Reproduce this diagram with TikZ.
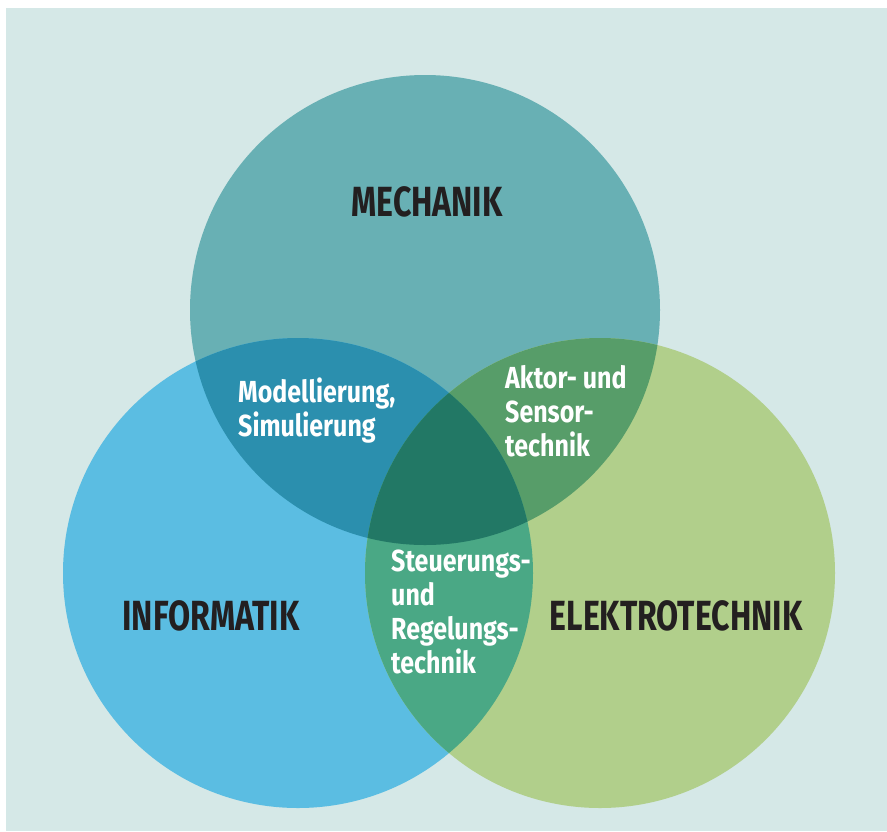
\documentclass[tikz,border=0pt]{standalone}
\usepackage{fontspec}
\setmainfont{Fira Sans}[FakeStretch=0.76]
\newfontfamily\overlapfont{Fira Sans}[FakeStretch=0.82]
\usepackage{tikz}

\definecolor{bgcol}{HTML}{D5E8E7}
\definecolor{mechcol}{HTML}{68B0B4}
\definecolor{infocol}{HTML}{5BBDE2}
\definecolor{etcol}{HTML}{B1CF8B}
\definecolor{mechinfo}{HTML}{2B8FAE}
\definecolor{mechet}{HTML}{579D69}
\definecolor{infoet}{HTML}{4AA885}
\definecolor{allthree}{HTML}{227865}
\definecolor{textdark}{HTML}{231F20}

\begin{document}
\begin{tikzpicture}[x=0.03cm, y=-0.03cm]
    % Styles
    \tikzstyle{field} = [font=\bfseries\fontsize{36}{40}\selectfont, text=textdark, anchor=base, inner sep=0pt]
    \tikzstyle{overlap} = [font=\overlapfont\bfseries\fontsize{26}{29}\selectfont, text=white, anchor=base west, align=left, inner sep=0pt]

    % Frame
    \useasboundingbox (0,0) rectangle (887,831);
    \fill[bgcol] (6,8) rectangle (887,831);

    % Circle centres
    \coordinate (M) at (425,310);
    \coordinate (I) at (298,573);
    \coordinate (E) at (600,573);
    \def\rad{235}

    % Circles
    \fill[mechcol] (M) circle (\rad);
    \fill[infocol] (I) circle (\rad);
    \fill[etcol] (E) circle (\rad);

    % Overlaps
    \begin{scope}
        \clip (M) circle (\rad);
        \fill[mechinfo] (I) circle (\rad);
        \fill[mechet] (E) circle (\rad);
    \end{scope}
    \begin{scope}
        \clip (I) circle (\rad);
        \fill[infoet] (E) circle (\rad);
        \clip (M) circle (\rad);
        \fill[allthree] (E) circle (\rad);
    \end{scope}

    % Nodes (multi-line ones sit on their last baseline)
    \node[field] (mech) at (427,216) {MECHANIK};
    \node[field] (info) at (211,630) {INFORMATIK};
    \node[field] (elektro) at (676,630) {ELEKTROTECHNIK};

    \node[overlap] (modell) at (238,436) {Modellierung,\\Simulierung};
    \node[overlap] (aktor) at (505,456) {Aktor- und\\Sensor-\\technik};
    \node[overlap] (steuer) at (391,673) {Steuerungs-\\und\\Regelungs-\\technik};

\end{tikzpicture}
\end{document}
